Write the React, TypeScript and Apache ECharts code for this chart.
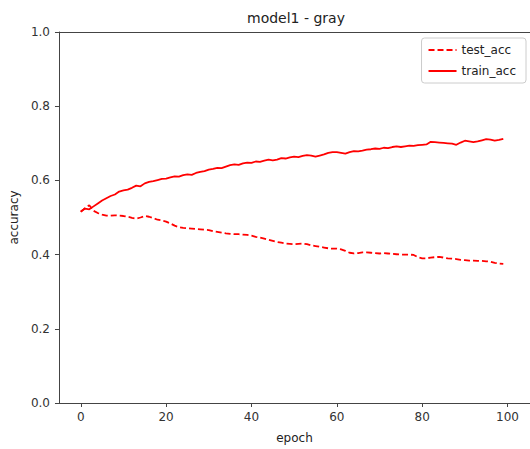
import React, { useEffect, useRef } from "react";
import * as echarts from "echarts";

const epochs: number[] = Array.from({ length: 100 }, (_, i) => i);

const trainAcc: number[] = [
  0.516, 0.524, 0.522, 0.53, 0.538, 0.546, 0.552, 0.558, 0.562, 0.57,
  0.573, 0.575, 0.58, 0.586, 0.584, 0.592, 0.596, 0.598, 0.601, 0.604,
  0.605, 0.608, 0.611, 0.61, 0.614, 0.616, 0.615, 0.62, 0.623, 0.625,
  0.629, 0.631, 0.634, 0.633, 0.637, 0.641, 0.643, 0.642, 0.646, 0.648,
  0.647, 0.651, 0.65, 0.653, 0.656, 0.654, 0.656, 0.66, 0.659, 0.662,
  0.664, 0.663, 0.666, 0.668, 0.667, 0.664, 0.667, 0.67, 0.674, 0.676,
  0.676, 0.674, 0.672, 0.676, 0.679, 0.678, 0.68, 0.683, 0.684, 0.686,
  0.685, 0.688, 0.687, 0.69, 0.692, 0.69, 0.692, 0.694, 0.693, 0.695,
  0.696, 0.697, 0.704, 0.703, 0.702, 0.701, 0.7, 0.699, 0.696, 0.702,
  0.707, 0.705, 0.703, 0.705, 0.708, 0.711, 0.71, 0.707, 0.709, 0.712,
];

const testAcc: number[] = [
  0.515, 0.525, 0.533, 0.518, 0.512, 0.508, 0.505, 0.505, 0.506, 0.505,
  0.504, 0.502, 0.499, 0.497, 0.5, 0.504, 0.502, 0.498, 0.494, 0.492,
  0.489, 0.484, 0.478, 0.474, 0.472, 0.471, 0.47, 0.469, 0.468, 0.467,
  0.466, 0.463, 0.461, 0.459, 0.457, 0.456, 0.455, 0.455, 0.454, 0.453,
  0.451, 0.448, 0.446, 0.443, 0.44, 0.437, 0.434, 0.432, 0.43, 0.429,
  0.428, 0.429, 0.43, 0.428, 0.425, 0.423, 0.421, 0.419, 0.417, 0.416,
  0.416, 0.414, 0.41, 0.405, 0.403, 0.404, 0.406, 0.406, 0.405, 0.404,
  0.403, 0.404, 0.403, 0.402, 0.401, 0.4, 0.4, 0.4, 0.399, 0.393,
  0.39, 0.39, 0.392, 0.393, 0.394, 0.392, 0.39, 0.389, 0.388, 0.386,
  0.385, 0.384, 0.384, 0.383, 0.383, 0.382, 0.381, 0.378, 0.376, 0.375,
];

const xTicks: number[] = [0, 20, 40, 60, 80, 100];

export default function App() {
  const ref = useRef<HTMLDivElement>(null);
  useEffect(() => {
    if (!ref.current) return;
    const chart = echarts.init(ref.current, null, { renderer: "svg" });
    const font = "DejaVu Sans";
    const axisColor = "#444";
    chart.setOption({
      animation: false,
      backgroundColor: "#fff",
      textStyle: { fontFamily: font },
      title: {
        text: "model1 - gray",
        left: 291,
        top: 6,
        textAlign: "center",
        textStyle: { fontFamily: font, fontSize: 14, fontWeight: "normal", color: "#222" },
      },
      grid: {
        left: 57,
        top: 32,
        width: 473,
        height: 373,
        show: false,
      },
      legend: {
        orient: "vertical",
        right: 4,
        top: 38,
        padding: [6, 10, 6, 6],
        itemWidth: 28,
        itemHeight: 12,
        itemGap: 9,
        backgroundColor: "#fff",
        borderColor: "#ccc",
        borderWidth: 1,
        borderRadius: 3,
        itemStyle: { opacity: 0 },
        textStyle: { fontFamily: font, fontSize: 12, color: "#222" },
        data: [{ name: "test_acc" }, { name: "train_acc" }],
      },
      xAxis: [
        {
          type: "value",
          min: -5.1,
          max: 105.26,
          name: "epoch",
          nameLocation: "middle",
          nameGap: 29,
          nameTextStyle: { fontFamily: font, fontSize: 12, color: "#222" },
          axisLine: { show: true, onZero: false, lineStyle: { color: axisColor } },
          axisTick: { show: true, length: 4, customValues: xTicks, lineStyle: { color: axisColor } },
          axisLabel: {
            customValues: xTicks,
            margin: 8,
            fontFamily: font,
            fontSize: 12,
            color: "#333",
          },
          splitLine: { show: false },
        },
        {
          type: "value",
          position: "top",
          min: -5.1,
          max: 105.26,
          axisLine: { show: true, onZero: false, lineStyle: { color: axisColor } },
          axisTick: { show: false },
          axisLabel: { show: false },
          splitLine: { show: false },
        },
      ],
      yAxis: {
        type: "value",
        min: 0,
        max: 1,
        interval: 0.2,
        name: "accuracy",
        nameLocation: "middle",
        nameGap: 36,
        nameTextStyle: { fontFamily: font, fontSize: 12, color: "#222" },
        axisLine: { show: true, onZero: false, lineStyle: { color: axisColor } },
        axisTick: { show: true, length: 4, lineStyle: { color: axisColor } },
        axisLabel: {
          margin: 9,
          fontFamily: font,
          fontSize: 12,
          color: "#333",
          formatter: (v: number) => v.toFixed(1),
        },
        splitLine: { show: false },
      },
      series: [
        {
          name: "test_acc",
          type: "line",
          xAxisIndex: 0,
          data: epochs.map((e, i) => [e, testAcc[i]]),
          showSymbol: false,
          symbol: "none",
          color: "#ff0000",
          lineStyle: { color: "#ff0000", width: 1.8, type: [6, 3] },
        },
        {
          name: "train_acc",
          type: "line",
          xAxisIndex: 0,
          data: epochs.map((e, i) => [e, trainAcc[i]]),
          showSymbol: false,
          symbol: "none",
          color: "#ff0000",
          lineStyle: { color: "#ff0000", width: 1.8, type: "solid" },
        },
      ],
    });
    return () => chart.dispose();
  }, []);
  return (
    <div
      ref={ref}
      style={{ position: "absolute", left: 0, top: 0, width: 530, height: 449 }}
    />
  );
}
